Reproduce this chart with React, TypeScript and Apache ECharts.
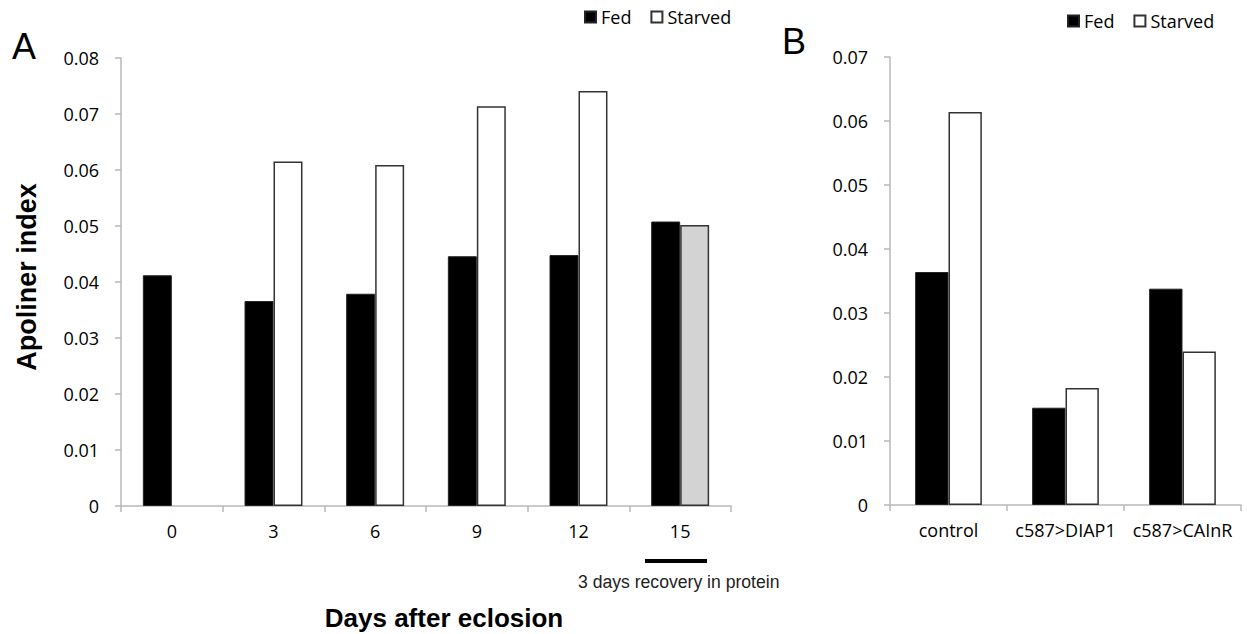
import React, { useEffect, useRef } from "react";
import * as echarts from "echarts";

// Panel A
const daysCategories = ["0", "3", "6", "9", "12", "15"];
const fedA = [0.0412, 0.0366, 0.0379, 0.0446, 0.0448, 0.0508];
const starvedA: (number | null)[] = [null, 0.0615, 0.0609, 0.0714, 0.0741, 0.0502];
const recoveryIndex = 5; // the "15" starved bar (3 days recovery in protein) is grey

// Panel B
const genotypeCategories = ["control", "c587>DIAP1", "c587>CAInR"];
const fedB = [0.0364, 0.0152, 0.0338];
const starvedB = [0.0614, 0.0183, 0.024];

const yTicksA = { min: 0, max: 0.08, interval: 0.01 };
const yTicksB = { min: 0, max: 0.07, interval: 0.01 };

const FONT = "'Open Sans', 'Noto Sans', sans-serif";
const BOLD_FONT = "'Liberation Sans', Arial, sans-serif";
const AXIS_GRAY = "#b9b9b9";

export default function App() {
  const ref = useRef<HTMLDivElement>(null);

  useEffect(() => {
    document.body.style.margin = "0";
    if (!ref.current) return;
    const chart = echarts.init(ref.current, undefined, { renderer: "svg" });

    const fmt = (v: number) => (v === 0 ? "0" : v.toFixed(2));

    const xAxisCommon = {
      type: "category" as const,
      axisLine: { lineStyle: { color: AXIS_GRAY, width: 1.5 } },
      axisTick: { show: true, length: 6, lineStyle: { color: AXIS_GRAY, width: 1.5 } },
      axisLabel: { color: "#000", fontSize: 18, fontFamily: FONT, margin: 16, interval: 0 },
    };
    const yAxisCommon = {
      type: "value" as const,
      splitLine: { show: false },
      axisLine: { show: true, lineStyle: { color: AXIS_GRAY, width: 1.5 } },
      axisTick: { show: true, length: 6, lineStyle: { color: AXIS_GRAY, width: 1.5 } },
      axisLabel: { color: "#000", fontSize: 18, fontFamily: FONT, margin: 22, formatter: fmt },
    };

    const fedStyle = { color: "#000", borderColor: "#222", borderWidth: 1 };
    const starvedStyle = { color: "#fff", borderColor: "#333", borderWidth: 1.5 };

    const legendCommon = {
      icon: "rect",
      itemWidth: 11,
      itemHeight: 11,
      itemGap: 19,
      padding: 0,
      selectedMode: false,
      textStyle: { fontSize: 18, fontFamily: FONT, color: "#000" },
      data: ["Fed", "Starved"],
    };

    chart.setOption({
      animation: false,
      backgroundColor: "#fff",
      legend: [
        { ...legendCommon, left: 584, top: 8 },
        { ...legendCommon, left: 1067, top: 12 },
      ],
      grid: [
        { left: 121, top: 58, width: 610, height: 448 },
        { left: 890, top: 57, width: 351, height: 448 },
      ],
      xAxis: [
        { ...xAxisCommon, gridIndex: 0, data: daysCategories },
        { ...xAxisCommon, gridIndex: 1, data: genotypeCategories },
      ],
      yAxis: [
        { ...yAxisCommon, gridIndex: 0, ...yTicksA },
        { ...yAxisCommon, gridIndex: 1, ...yTicksB },
      ],
      series: [
        {
          name: "Fed",
          type: "bar",
          xAxisIndex: 0,
          yAxisIndex: 0,
          data: fedA,
          barGap: "0%",
          barCategoryGap: "43%",
          itemStyle: fedStyle,
        },
        {
          name: "Starved",
          type: "bar",
          xAxisIndex: 0,
          yAxisIndex: 0,
          data: starvedA.map((v, i) =>
            i === recoveryIndex ? { value: v, itemStyle: { color: "#d3d3d3" } } : v
          ),
          barGap: "0%",
          barCategoryGap: "43%",
          itemStyle: starvedStyle,
        },
        {
          name: "Fed",
          type: "bar",
          xAxisIndex: 1,
          yAxisIndex: 1,
          data: fedB,
          barGap: "0%",
          barCategoryGap: "43%",
          itemStyle: fedStyle,
        },
        {
          name: "Starved",
          type: "bar",
          xAxisIndex: 1,
          yAxisIndex: 1,
          data: starvedB,
          barGap: "0%",
          barCategoryGap: "43%",
          itemStyle: starvedStyle,
        },
      ],
      graphic: [
        {
          type: "text",
          left: 12,
          top: 28,
          style: { text: "A", font: `normal 36px ${BOLD_FONT}`, fill: "#000" },
        },
        {
          type: "text",
          left: 782,
          top: 23,
          style: { text: "B", font: `normal 36px ${BOLD_FONT}`, fill: "#000" },
        },
        {
          type: "text",
          x: 27,
          y: 277,
          rotation: Math.PI / 2,
          style: {
            text: "Apoliner index",
            font: `bold 27px ${BOLD_FONT}`,
            fill: "#000",
            textAlign: "center",
            textVerticalAlign: "middle",
          },
        },
        {
          type: "text",
          x: 444,
          y: 618,
          style: {
            text: "Days after eclosion",
            font: `bold 26px ${BOLD_FONT}`,
            fill: "#000",
            textAlign: "center",
            textVerticalAlign: "middle",
          },
        },
        {
          type: "line",
          shape: { x1: 645, y1: 561, x2: 707, y2: 561 },
          style: { stroke: "#000", lineWidth: 4 },
        },
        {
          type: "text",
          x: 578,
          y: 582,
          style: {
            text: "3 days recovery in protein",
            font: `normal 17.6px ${BOLD_FONT}`,
            fill: "#222",
            textAlign: "left",
            textVerticalAlign: "middle",
          },
        },
      ],
    });

    return () => chart.dispose();
  }, []);

  return <div ref={ref} style={{ width: 1247, height: 634 }} />;
}
